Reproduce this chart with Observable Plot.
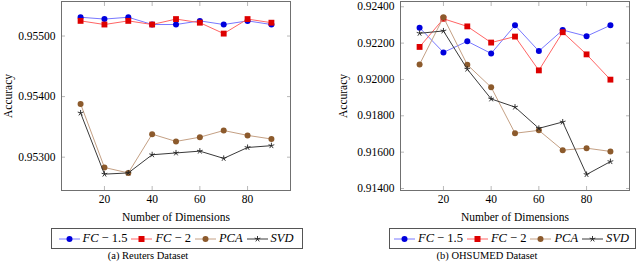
<!DOCTYPE html>
<html>
<head>
<meta charset="utf-8">
<script src="https://cdn.jsdelivr.net/npm/d3@7"></script>
<script src="https://cdn.jsdelivr.net/npm/@observablehq/plot@0.6"></script>
<style>
  html, body { margin: 0; padding: 0; background: #fff; }
  #root { position: relative; width: 640px; height: 264px; overflow: hidden; font-family: "Liberation Serif", "DejaVu Serif", serif; }
  .panel { position: absolute; top: 0; width: 320px; height: 264px; }
  .legend { position: absolute; top: 228px; height: 19px; border: 1px solid #555; box-sizing: content-box; display: flex; align-items: center; font-size: 12.5px; white-space: nowrap; }
  .legend .item { display: flex; align-items: center; }
  .legend svg { display: block; }
  .legend i { font-style: italic; }
  .caption { position: absolute; top: 250px; font-size: 10.5px; text-align: center; width: 300px; }
</style>
</head>
<body>
<div id="root"></div>
<script>
// ---- data ----
const dims = [10, 20, 30, 40, 50, 60, 70, 80, 90];
const xTicks = [20, 40, 60, 80];
const seriesNames = ["FC \u2212 1.5", "FC \u2212 2", "PCA", "SVD"];

const reutersFC15 = [0.95531, 0.95528, 0.95531, 0.95519, 0.95519, 0.95525, 0.95519, 0.95525, 0.95519];
const reutersFC2  = [0.95525, 0.95519, 0.95525, 0.95519, 0.95528, 0.95522, 0.95504, 0.95528, 0.95522];
const reutersPCA  = [0.95388, 0.95283, 0.95274, 0.95338, 0.95326, 0.95333, 0.95344, 0.95336, 0.95330];
const reutersSVD  = [0.95373, 0.95272, 0.95274, 0.95304, 0.95307, 0.95310, 0.95298, 0.95316, 0.95319];
const reutersYTicks = [0.953, 0.954, 0.955];

const ohsumedFC15 = [0.92285, 0.92149, 0.92210, 0.92143, 0.92298, 0.92156, 0.92272, 0.92238, 0.92298];
const ohsumedFC2  = [0.92179, 0.92334, 0.92292, 0.92203, 0.92236, 0.92050, 0.92260, 0.92138, 0.91999];
const ohsumedPCA  = [0.92083, 0.92342, 0.92081, 0.91957, 0.91704, 0.91720, 0.91611, 0.91622, 0.91604];
const ohsumedSVD  = [0.92254, 0.92267, 0.92057, 0.91893, 0.91848, 0.91731, 0.91766, 0.91477, 0.91548];
const ohsumedYTicks = [0.914, 0.916, 0.918, 0.920, 0.922, 0.924];

// ---- styles ----
const styles = [
  {line: "#7878ff", mark: "#0000dd", symbol: "circle", r: 3},
  {line: "#ff6464", mark: "#dd0000", symbol: "square", r: 3.3},
  {line: "#c4a084", mark: "#8c5a2c", symbol: "circle", r: 3},
  {line: "#3a3a3a", mark: "#222222", symbol: "asterisk", r: 3}
];

const asterisk = {
  draw(context, size) {
    const r = Math.sqrt(size / Math.PI);
    for (let i = 0; i < 5; i++) {
      const a = (-90 + 72 * i) * Math.PI / 180;
      context.moveTo(0, 0);
      context.lineTo(r * Math.cos(a), r * Math.sin(a));
    }
  }
};

function seriesMarks(values, st) {
  const data = dims.map((d, i) => ({x: d, y: values[i]}));
  const marks = [Plot.line(data, {x: "x", y: "y", stroke: st.line, strokeWidth: 1})];
  if (st.symbol === "asterisk") {
    marks.push(Plot.dot(data, {x: "x", y: "y", symbol: asterisk, r: st.r, fill: "none", stroke: st.mark, strokeWidth: 0.9}));
  } else {
    marks.push(Plot.dot(data, {x: "x", y: "y", symbol: st.symbol, r: st.r, fill: st.mark, stroke: "none"}));
  }
  return marks;
}

function makePlot({seriesList, yDomain, yTicks, marginLeft, marginRight, labelOffsetY}) {
  const tickColor = "#b8b8b8";
  return Plot.plot({
    width: 320,
    height: 222,
    marginLeft, marginRight,
    marginTop: 1,
    marginBottom: 32,
    style: {fontFamily: "'Liberation Serif', 'DejaVu Serif', serif", fontSize: "11.5px", color: "#000", background: "#fff"},
    x: {domain: [2, 98]},
    y: {domain: yDomain},
    marks: [
      // inward ticks on all four sides
      Plot.axisX(xTicks, {anchor: "bottom", tickSize: -4, tickFormat: () => "", stroke: tickColor, label: null}),
      Plot.axisX(xTicks, {anchor: "top", tickSize: -4, tickFormat: () => "", stroke: tickColor, label: null}),
      Plot.axisY(yTicks, {anchor: "left", tickSize: -4, tickFormat: () => "", stroke: tickColor, label: null}),
      Plot.axisY(yTicks, {anchor: "right", tickSize: -4, tickFormat: () => "", stroke: tickColor, label: null}),
      // tick labels and titles
      Plot.axisX(xTicks, {anchor: "bottom", tickSize: 0, tickPadding: 4, label: "Number of Dimensions", labelAnchor: "center", labelArrow: "none", labelOffset: 30}),
      Plot.axisY(yTicks, {anchor: "left", tickSize: 0, tickPadding: 6, tickFormat: d3.format(".5f"), label: "Accuracy", labelAnchor: "center", labelArrow: "none", labelOffset: labelOffsetY}),
      ...seriesList.flatMap((vals, i) => seriesMarks(vals, styles[i])),
      Plot.frame({stroke: "#707070", strokeWidth: 1})
    ]
  });
}

function legendLabel(name) {
  // letters italic (math style), digits and minus upright
  const span = document.createElement("span");
  name.split(/(\s*\u2212\s*[\d.]+)/).forEach(part => {
    if (!part) return;
    if (/\u2212/.test(part)) {
      const s = document.createElement("span");
      s.textContent = part.replace(/\s*\u2212\s*/, " \u2212 ");
      span.appendChild(s);
    } else {
      const it = document.createElement("i");
      it.textContent = part;
      span.appendChild(it);
    }
  });
  return span;
}

function makeLegend(left, width) {
  const lg = document.createElement("div");
  lg.className = "legend";
  lg.style.left = left + "px";
  lg.style.width = width + "px";
  lg.style.justifyContent = "center";
  seriesNames.forEach((name, i) => {
    const st = styles[i];
    const item = document.createElement("div");
    item.className = "item";
    const svg = d3.create("svg").attr("width", 23).attr("height", 12);
    svg.append("line").attr("x1", 1).attr("x2", 22).attr("y1", 6).attr("y2", 6).attr("stroke", st.line).attr("stroke-width", 1);
    if (st.symbol === "asterisk") {
      const p = d3.path();
      asterisk.draw(p, Math.PI * 9);
      svg.append("path").attr("d", p.toString()).attr("transform", "translate(11.5,6)").attr("fill", "none").attr("stroke", st.mark).attr("stroke-width", 0.9);
    } else if (st.symbol === "square") {
      svg.append("rect").attr("x", 8.5).attr("y", 3).attr("width", 6).attr("height", 6).attr("fill", st.mark);
    } else {
      svg.append("circle").attr("cx", 11.5).attr("cy", 6).attr("r", 3).attr("fill", st.mark);
    }
    item.appendChild(svg.node());
    const t = legendLabel(name);
    t.style.margin = "0 3px 0 2px";
    item.appendChild(t);
    lg.appendChild(item);
  });
  return lg;
}

const root = document.getElementById("root");

const panels = [
  {left: 0, seriesList: [reutersFC15, reutersFC2, reutersPCA, reutersSVD], yDomain: [0.95245, 0.95557], yTicks: reutersYTicks,
   marginLeft: 61, marginRight: 30, labelOffsetY: 58, legendLeft: 51, legendWidth: 250, caption: "(a) Reuters Dataset", captionCenter: 148},
  {left: 320, seriesList: [ohsumedFC15, ohsumedFC2, ohsumedPCA, ohsumedSVD], yDomain: [0.91389, 0.92429], yTicks: ohsumedYTicks,
   marginLeft: 80, marginRight: 11, labelOffsetY: 62, legendLeft: 69, legendWidth: 245, caption: "(b) OHSUMED Dataset", captionCenter: 167}
];

panels.forEach(p => {
  const div = document.createElement("div");
  div.className = "panel";
  div.style.left = p.left + "px";
  const chart = makePlot(p);
  chart.style.position = "absolute";
  chart.style.left = "0px";
  chart.style.top = "0px";
  div.appendChild(chart);
  div.appendChild(makeLegend(p.legendLeft, p.legendWidth));
  const cap = document.createElement("div");
  cap.className = "caption";
  cap.textContent = p.caption;
  cap.style.left = (p.captionCenter - 150) + "px";
  div.appendChild(cap);
  root.appendChild(div);
});
</script>
</body>
</html>
